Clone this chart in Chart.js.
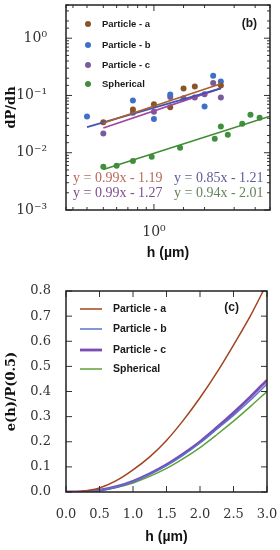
<!DOCTYPE html>
<html>
<head>
<meta charset="utf-8">
<script src="https://cdn.jsdelivr.net/npm/chart.js@4"></script>
<style>
  body { margin: 0; background: #fff; }
  .panel { position: absolute; left: 0; width: 280px; }
  #top { top: 0; height: 265px; }
  #bottom { top: 265px; height: 285px; }
</style>
</head>
<body>
<div class="panel" id="top"><canvas id="chartB"></canvas></div>
<div class="panel" id="bottom"><canvas id="chartC"></canvas></div>
<script>
// Series names and colours
const seriesNames = ['Particle - a', 'Particle - b', 'Particle - c', 'Spherical'];
const dotColors = ['#8a5426', '#3f6fc8', '#7b5a9c', '#3f8f3f'];
const fitColors = ['#a8602a', '#4152b4', '#a045a6', '#3f8c34'];
const eqColors = ['#b8695a', '#5c5c9c', '#7c4f8e', '#66845a'];
const curveColors = ['#a3441e', '#5b72cc', '#7a4db3', '#5ea23e'];

// Panel (b): dP/dh vs h, log-log
const hA = [0.5, 0.75, 1.0, 1.25, 1.5, 1.75, 2.5];
const dA = [0.034, 0.057, 0.070, 0.062, 0.133, 0.144, 0.150];
const hB = [0.4, 0.75, 1.0, 1.25, 2.0, 2.25, 2.5];
const dB = [0.043, 0.082, 0.039, 0.104, 0.064, 0.220, 0.176];
const hCp = [0.5, 0.75, 1.0, 1.25, 1.5, 1.75, 2.0, 2.25, 2.5];
const dC = [0.0216, 0.050, 0.052, 0.094, 0.089, 0.092, 0.105, 0.165, 0.092];
const hS = [0.5, 0.6, 0.75, 0.97, 1.43, 2.3, 2.5, 2.75, 3.35, 3.75, 4.25];
const dS = [0.0057, 0.0059, 0.0072, 0.0085, 0.0122, 0.0176, 0.0286, 0.0207, 0.032, 0.046, 0.041];

// fitted lines (end points)
const fitA_h = [0.5, 2.5], fitA_d = [0.033, 0.160];
const fitB_h = [0.4, 2.5], fitB_d = [0.028, 0.133];
const fitC_h = [0.5, 2.5], fitC_d = [0.027, 0.133];
const fitS_h = [0.5, 4.9], fitS_d = [0.0051, 0.0435];
const fitLabels = ['y = 0.99x - 1.19', 'y = 0.85x - 1.21', 'y = 0.99x - 1.27', 'y = 0.94x - 2.01'];

const xTickValuesB = [1];
const xTickLabelsB = ['10\u2070'];
const yTickValuesB = [0.001, 0.01, 0.1, 1];
const yTickLabelsB = ['10\u207B\u00B3', '10\u207B\u00B2', '10\u207B\u00B9', '10\u2070'];

// Panel (c): e(h)/P(0.5) vs h
const hCurve = [0, 0.25, 0.5, 0.75, 1.0, 1.25, 1.5, 1.75, 2.0, 2.25, 2.5, 2.75, 3.0];
const eA = [0, 0.003, 0.016, 0.045, 0.088, 0.140, 0.205, 0.285, 0.375, 0.475, 0.585, 0.700, 0.830];
const eB = [0, 0.001, 0.007, 0.020, 0.041, 0.070, 0.105, 0.147, 0.195, 0.250, 0.305, 0.365, 0.430];
const eC = [0, 0.001, 0.007, 0.021, 0.043, 0.073, 0.109, 0.152, 0.200, 0.256, 0.315, 0.378, 0.445];
const eS = [0, 0.001, 0.006, 0.018, 0.036, 0.062, 0.094, 0.133, 0.177, 0.228, 0.282, 0.340, 0.400];
const curveWidths = [1.5, 1.5, 2.8, 1.5];

function pts(xs, ys) {
    return xs.map((x, i) => ({ x: x, y: ys[i] }));
}

function pickLabel(values, labels) {
    return function(v) {
        const i = values.findIndex(t => Math.abs(t - v) / t < 1e-6);
        return i >= 0 ? labels[i] : '';
    };
}

// inward ticks, frame, legend and notes
const panelDecor = {
    id: 'panelDecor',
    afterDraw(chart, args, opts) {
        const ctx = chart.ctx;
        const a = chart.chartArea;
        ctx.save();
        ctx.strokeStyle = '#333';
        ctx.lineWidth = 1;
        ['x', 'y'].forEach(id => {
            const s = chart.scales[id];
            s.ticks.forEach(t => {
                const p = s.getPixelForValue(t.value);
                let major = true;
                if (s.type === 'logarithmic') {
                    const l = Math.log10(t.value);
                    major = Math.abs(l - Math.round(l)) < 1e-6;
                }
                const len = major ? 6 : 3;
                ctx.beginPath();
                if (id === 'x') {
                    ctx.moveTo(p, a.bottom); ctx.lineTo(p, a.bottom - len);
                    ctx.moveTo(p, a.top); ctx.lineTo(p, a.top + len);
                } else {
                    ctx.moveTo(a.left, p); ctx.lineTo(a.left + len, p);
                    ctx.moveTo(a.right, p); ctx.lineTo(a.right - len, p);
                }
                ctx.stroke();
            });
        });
        ctx.strokeStyle = '#222';
        ctx.lineWidth = 1.5;
        ctx.strokeRect(a.left, a.top, a.right - a.left, a.bottom - a.top);

        // legend
        const items = chart.data.datasets.filter(d => d.legendKind);
        ctx.textBaseline = 'middle';
        ctx.textAlign = 'left';
        ctx.font = opts.legendFont;
        items.forEach((d, i) => {
            const y = opts.legendRows[i];
            if (d.legendKind === 'dot') {
                ctx.fillStyle = d.backgroundColor;
                ctx.beginPath();
                ctx.arc(opts.markX, y, 3, 0, Math.PI * 2);
                ctx.fill();
            } else {
                ctx.strokeStyle = d.borderColor;
                ctx.lineWidth = d.borderWidth;
                ctx.beginPath();
                ctx.moveTo(opts.markX, y);
                ctx.lineTo(opts.markX2, y);
                ctx.stroke();
            }
            ctx.fillStyle = '#1a1a1a';
            ctx.fillText(d.label, opts.textX, y);
        });

        // panel tag
        ctx.font = 'bold 12px "Liberation Sans", Arial, sans-serif';
        ctx.textAlign = 'right';
        ctx.fillStyle = '#1a1a1a';
        ctx.fillText(opts.tag, opts.tagX, opts.tagY);

        // fit equations
        ctx.textAlign = 'left';
        ctx.font = '14px "Liberation Serif", "Times New Roman", serif';
        (opts.notes || []).forEach(n => {
            ctx.fillStyle = n.color;
            ctx.fillText(n.text, n.x, n.y);
        });
        ctx.restore();
    }
};

const tickFont = size => ({ family: '"DejaVu Serif", serif', size: size });
const titleFontSans = { family: '"Liberation Sans", Arial, sans-serif', size: 14, weight: 'bold' };
const titleFontSerif = { family: '"DejaVu Serif", serif', size: 13, weight: 'bold' };

// ---- Panel (b)
const scatterSets = [[hA, dA], [hB, dB], [hCp, dC], [hS, dS]].map((s, i) => ({
    label: seriesNames[i],
    data: pts(s[0], s[1]),
    backgroundColor: dotColors[i],
    borderColor: dotColors[i],
    pointRadius: 3,
    borderWidth: 0,
    showLine: false,
    legendKind: 'dot'
}));
const fitSets = [[fitA_h, fitA_d], [fitB_h, fitB_d], [fitC_h, fitC_d], [fitS_h, fitS_d]].map((s, i) => ({
    label: 'fit ' + seriesNames[i],
    data: pts(s[0], s[1]),
    borderColor: fitColors[i],
    borderWidth: 1.6,
    pointRadius: 0,
    showLine: true
}));

new Chart(document.getElementById('chartB'), {
    type: 'scatter',
    data: { datasets: fitSets.concat(scatterSets) },
    options: {
        responsive: true,
        maintainAspectRatio: false,
        animation: false,
        layout: { padding: { top: 5, right: 10, left: 0, bottom: 0 } },
        plugins: {
            legend: { display: false },
            tooltip: { enabled: false },
            panelDecor: {
                legendFont: 'bold 9.5px "Liberation Sans", Arial, sans-serif',
                legendRows: [24, 45, 65, 84],
                markX: 88,
                textX: 102,
                tag: '(b)', tagX: 257, tagY: 24,
                notes: [
                    { text: fitLabels[0], color: eqColors[0], x: 73, y: 178 },
                    { text: fitLabels[1], color: eqColors[1], x: 174, y: 178 },
                    { text: fitLabels[2], color: eqColors[2], x: 73, y: 193 },
                    { text: fitLabels[3], color: eqColors[3], x: 174, y: 193 }
                ]
            }
        },
        scales: {
            x: {
                type: 'logarithmic',
                min: 0.33,
                max: 4.9,
                grid: { display: false },
                border: { display: false },
                ticks: {
                    autoSkip: false,
                    maxRotation: 0,
                    padding: 6,
                    color: '#333',
                    font: tickFont(14),
                    callback: pickLabel(xTickValuesB, xTickLabelsB)
                },
                title: { display: true, text: 'h (\u00B5m)', color: '#111', font: titleFontSans, padding: 3 },
                afterFit(s) { s.height = 55; s.paddingLeft = 0; s.paddingRight = 0; }
            },
            y: {
                type: 'logarithmic',
                min: 0.001,
                max: 3.8,
                grid: { display: false },
                border: { display: false },
                ticks: {
                    autoSkip: false,
                    padding: 11,
                    color: '#333',
                    font: tickFont(14),
                    callback: pickLabel(yTickValuesB, yTickLabelsB)
                },
                title: { display: true, text: 'dP/dh', color: '#111', font: titleFontSerif, padding: 4 },
                afterFit(s) { s.width = 66; s.paddingTop = 0; s.paddingBottom = 0; }
            }
        }
    },
    plugins: [panelDecor]
});

// ---- Panel (c)
const curveSets = [eA, eB, eC, eS].map((e, i) => ({
    label: seriesNames[i],
    data: pts(hCurve, e),
    borderColor: curveColors[i],
    borderWidth: curveWidths[i],
    pointRadius: 0,
    showLine: true,
    cubicInterpolationMode: 'monotone',
    legendKind: 'line'
}));

new Chart(document.getElementById('chartC'), {
    type: 'scatter',
    data: { datasets: curveSets },
    options: {
        responsive: true,
        maintainAspectRatio: false,
        animation: false,
        layout: { padding: { top: 26, right: 13, left: 0, bottom: 0 } },
        plugins: {
            legend: { display: false },
            tooltip: { enabled: false },
            panelDecor: {
                legendFont: 'bold 10.5px "Liberation Sans", Arial, sans-serif',
                legendRows: [44, 64, 85, 104],
                markX: 80, markX2: 102,
                textX: 113,
                tag: '(c)', tagX: 239, tagY: 43
            }
        },
        scales: {
            x: {
                type: 'linear',
                min: 0,
                max: 3,
                grid: { display: false },
                border: { display: false },
                ticks: {
                    stepSize: 0.5,
                    maxRotation: 0,
                    padding: 7,
                    color: '#333',
                    font: tickFont(13),
                    callback: v => v.toFixed(1)
                },
                title: { display: true, text: 'h (\u00B5m)', color: '#111', font: titleFontSans, padding: 4 },
                afterFit(s) { s.height = 58; s.paddingLeft = 0; s.paddingRight = 0; }
            },
            y: {
                type: 'linear',
                min: 0,
                max: 0.8,
                grid: { display: false },
                border: { display: false },
                ticks: {
                    stepSize: 0.1,
                    padding: 7,
                    color: '#333',
                    font: tickFont(13),
                    callback: v => v.toFixed(1)
                },
                title: { display: true, text: 'e(h)/P(0.5)', color: '#111', font: titleFontSerif, padding: 4 },
                afterFit(s) { s.width = 66; s.paddingTop = 0; s.paddingBottom = 0; }
            }
        }
    },
    plugins: [panelDecor]
});
</script>
</body>
</html>
